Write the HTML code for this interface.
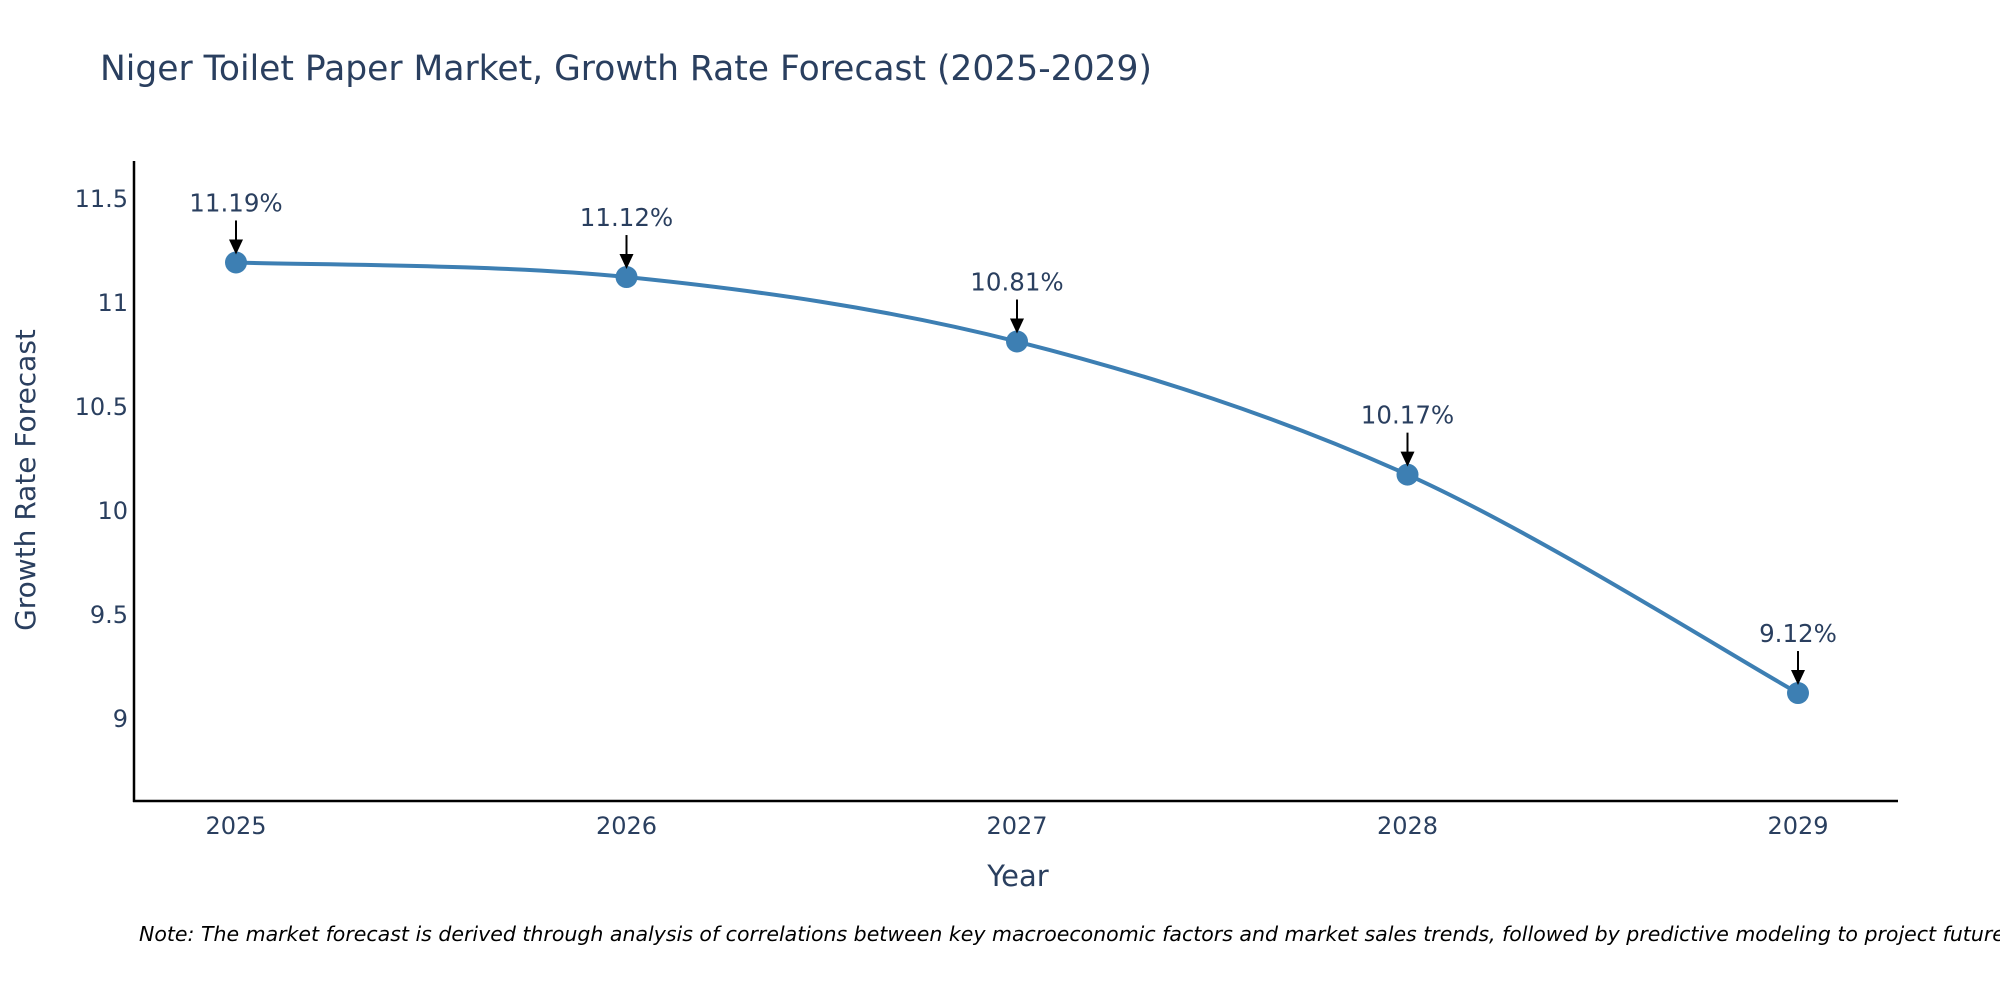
<!DOCTYPE html>
<html><head><meta charset="utf-8">
<style>
html,body{margin:0;padding:0;background:#fff;}
svg{display:block;font-family:"DejaVu Sans","Liberation Sans",sans-serif;}
</style></head>
<body>
<svg id="chart" width="2000" height="1000" viewBox="0 0 2000 1000" xmlns="http://www.w3.org/2000/svg">
  <text x="100" y="80" font-size="34.5" fill="#2a3f5f">Niger Toilet Paper Market, Growth Rate Forecast (2025-2029)</text>
  <g id="yticks"></g>
  <g id="xticks"></g>
  <line x1="134" y1="161" x2="134" y2="802" stroke="#000" stroke-width="2.5"/>
  <line x1="133" y1="801" x2="1898" y2="801" stroke="#000" stroke-width="2.5"/>
  <text transform="translate(35,480) rotate(-90)" text-anchor="middle" font-size="28" fill="#2a3f5f">Growth Rate Forecast</text>
  <text x="1018" y="886" text-anchor="middle" font-size="29" fill="#2a3f5f">Year</text>
  <g id="series"></g>
  <g id="annots"></g>
  <text x="139" y="941" font-size="20.5" font-style="italic" fill="#000">Note: The market forecast is derived through analysis of correlations between key macroeconomic factors and market sales trends, followed by predictive modeling to project future sales.</text>
</svg>
<script>
const years = [2025, 2026, 2027, 2028, 2029];
const values = [11.19, 11.12, 10.81, 10.17, 9.12];
const labels = ["11.19%", "11.12%", "10.81%", "10.17%", "9.12%"];
const yTickValues = [9, 9.5, 10, 10.5, 11, 11.5];
const yTickLabels = ["9", "9.5", "10", "10.5", "11", "11.5"];

const NS = "http://www.w3.org/2000/svg";
const xPx = yr => 236 + (yr - 2025) * (1798 - 236) / 4;
const yPx = v => 718 - (v - 9) * 208;
function mk(tag, attrs, parent, txt) {
  const e = document.createElementNS(NS, tag);
  for (const k in attrs) e.setAttribute(k, attrs[k]);
  if (txt !== undefined) e.textContent = txt;
  parent.appendChild(e);
  return e;
}
const yt = document.getElementById('yticks');
yTickValues.forEach((v, i) => {
  const t = mk('text', {x: 128, y: yPx(v) + 9, 'text-anchor': 'end', 'font-size': 24, fill: '#2a3f5f'}, yt, yTickLabels[i]);
  
  
});
const xt = document.getElementById('xticks');
years.forEach(yr => {
  const t = mk('text', {x: xPx(yr), y: 834, 'text-anchor': 'middle', 'font-size': 24, fill: '#2a3f5f'}, xt, String(yr));
  
  
});
const pts = years.map((yr, i) => [xPx(yr), yPx(values[i])]);
let d = `M${pts[0][0]},${pts[0][1]}`;
for (let i = 0; i < pts.length - 1; i++) {
  const p0 = pts[i - 1] || pts[i], p1 = pts[i], p2 = pts[i + 1], p3 = pts[i + 2] || pts[i + 1];
  const k = 1 / 6;
  d += ` C${p1[0] + (p2[0] - p0[0]) * k},${p1[1] + (p2[1] - p0[1]) * k} ${p2[0] - (p3[0] - p1[0]) * k},${p2[1] - (p3[1] - p1[1]) * k} ${p2[0]},${p2[1]}`;
}
const s = document.getElementById('series');
const line = mk('path', {d: d, fill: 'none', stroke: '#3d7fb3', 'stroke-width': 4}, s);


pts.forEach(p => {
  const c = mk('circle', {cx: p[0], cy: p[1], r: 11, fill: '#3d7fb3'}, s);
  
  
});
const a = document.getElementById('annots');
pts.forEach((p, i) => {
  const t = mk('text', {x: p[0], y: p[1] - 51, 'text-anchor': 'middle', 'font-size': 24.5, fill: '#2a3f5f'}, a, labels[i]);
  
  
  const l = mk('line', {x1: p[0], y1: p[1] - 42, x2: p[0], y2: p[1] - 20, stroke: '#000', 'stroke-width': 2}, a);
  
  
  const h = mk('path', {d: `M${p[0] - 7},${p[1] - 23} L${p[0] + 7},${p[1] - 23} L${p[0]},${p[1] - 8} Z`, fill: '#000'}, a);
  
  
});
</script>
</body></html>
